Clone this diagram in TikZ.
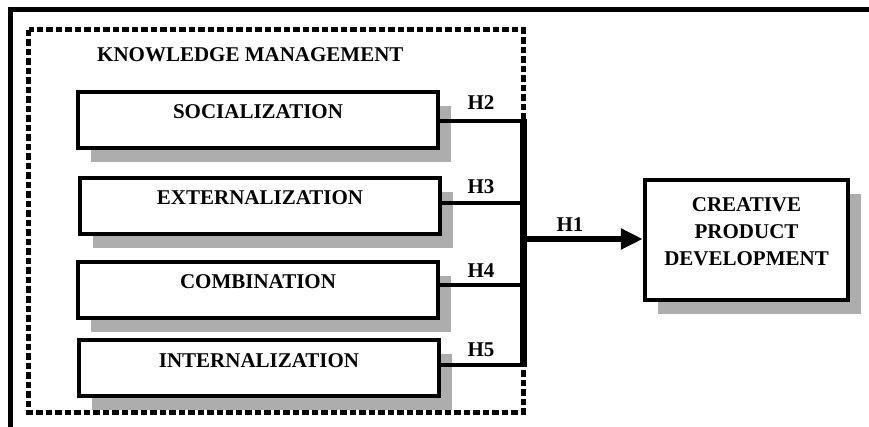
\documentclass[tikz,border=0pt]{standalone}
\usepackage{fontspec}
\setmainfont{Liberation Serif}
\usetikzlibrary{arrows.meta,shadows}
\begin{document}
\begin{tikzpicture}[x=1pt,y=-1pt,
  lbl/.style={font=\fontsize{21}{25}\selectfont\bfseries, inner sep=0pt},
  kbox/.style={draw, line width=4.5pt, fill=white, minimum width=360pt, minimum height=56pt,
    inner sep=0pt, text height=14pt, text depth=16pt,
    font=\fontsize{21}{25}\selectfont\bfseries,
    drop shadow={shadow xshift=13pt, shadow yshift=-14pt, fill=black!32, opacity=1}},
  conn/.style={line width=3.5pt},
]
\useasboundingbox (0,0) rectangle (869,427);
% outer frame
\coordinate (fbl) at (10,430);
\coordinate (ftl) at (10,10);
\coordinate (ftr) at (872,10);
\draw[line width=5pt] (fbl) -- (ftl) -- (ftr);
% dashed group box
\draw[line width=5pt, dash pattern=on 6.5pt off 3pt] (28.5,30) rectangle (523,412);
\node[lbl, anchor=west] (km) at (97,55) {KNOWLEDGE MANAGEMENT};
% boxes
\node[kbox] (s) at (258,120) {SOCIALIZATION};
\node[kbox] (e) at (260,206) {EXTERNALIZATION};
\node[kbox] (c) at (258,290) {COMBINATION};
\node[kbox] (i) at (259,368) {INTERNALIZATION};
% bar
\coordinate (b2) at (523,121);
\coordinate (b3) at (523,203);
\coordinate (b1) at (523,239);
\coordinate (b4) at (523,285);
\coordinate (b5) at (523,365);
\draw[line width=7pt] (523,119) -- (523,367);
\draw[conn] (s.east |- b2) -- (b2);
\draw[conn] (e.east |- b3) -- (b3);
\draw[conn] (c.east |- b4) -- (b4);
\draw[conn] (i.east |- b5) -- (b5);
% creative box
\node[draw, line width=4.5pt, fill=white, minimum width=203pt, minimum height=120pt,
  drop shadow={shadow xshift=13pt, shadow yshift=-14pt, fill=black!32, opacity=1},
  label={[name=ctext, align=center, font=\fontsize{21}{27}\selectfont\bfseries, yshift=8pt]center:CREATIVE\\PRODUCT\\DEVELOPMENT}]
  (cp) at (746.5,240) {};
\draw[line width=5.5pt, -{Triangle[length=22pt,width=20pt]}] (b1) -- (cp.west |- b1);
% labels
\node[lbl] (h2) at (481,103) {H2};
\node[lbl] (h3) at (481,187) {H3};
\node[lbl] (h1) at (570,225) {H1};
\node[lbl] (h4) at (481,271) {H4};
\node[lbl] (h5) at (481,350) {H5};
\end{tikzpicture}
\end{document}
